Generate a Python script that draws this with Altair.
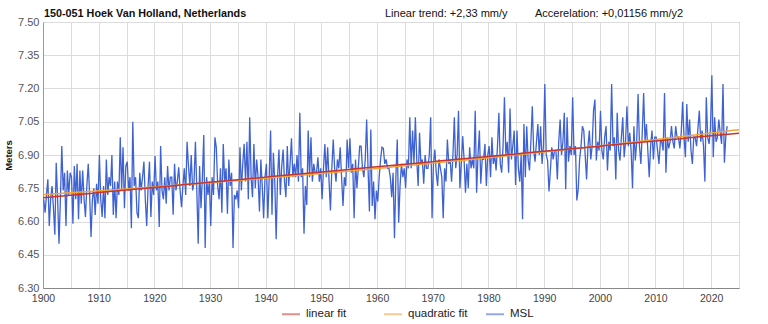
import altair as alt
import pandas as pd

# ---------------- data ----------------
start_year = 1900
# four values per year (quarters), metres
msl_by_year = [
    [6.70, 6.64, 6.72, 6.79],   # 1900
    [6.58, 6.70, 6.76, 6.66],
    [6.54, 6.865, 6.70, 6.50],
    [6.70, 6.94, 6.74, 6.82],
    [6.58, 6.83, 6.72, 6.82],
    [6.80, 6.59, 6.85, 6.70],   # 1905
    [6.86, 6.61, 6.83, 6.68],
    [6.83, 6.70, 6.62, 6.76],
    [6.86, 6.72, 6.53, 6.70],
    [6.75, 6.63, 6.77, 6.68],
    [6.90, 6.70, 6.62, 6.76],   # 1910
    [6.615, 6.88, 6.72, 6.80],
    [6.76, 6.90, 6.63, 6.78],
    [6.615, 6.78, 6.72, 6.98],
    [6.74, 6.935, 6.66, 6.85],
    [6.87, 6.74, 6.80, 6.57],   # 1915
    [7.05, 6.76, 6.80, 6.64],
    [6.615, 6.82, 6.74, 6.80],
    [6.87, 6.70, 6.58, 6.76],
    [6.87, 6.62, 6.78, 6.72],
    [6.895, 6.74, 6.78, 6.575],  # 1920
    [6.94, 6.74, 6.70, 6.80],
    [6.68, 6.85, 6.74, 6.80],
    [6.80, 6.63, 6.86, 6.74],
    [6.78, 6.845, 6.74, 6.665],
    [6.76, 6.84, 6.72, 6.96],   # 1925
    [6.85, 6.76, 6.90, 6.74],
    [6.78, 6.96, 6.74, 6.50],
    [6.85, 6.66, 6.80, 6.99],
    [6.48, 6.80, 6.72, 6.78],
    [6.58, 6.80, 6.72, 6.98],   # 1930
    [6.935, 6.76, 6.70, 6.84],
    [6.64, 6.95, 6.78, 6.84],
    [6.635, 6.88, 6.76, 6.82],
    [6.48, 6.72, 6.70, 6.74],
    [6.66, 6.935, 6.74, 6.86],  # 1935
    [6.95, 6.78, 6.96, 6.70],
    [7.07, 6.80, 6.71, 6.95],
    [6.75, 6.88, 6.80, 6.645],
    [6.88, 6.76, 6.615, 6.80],
    [6.86, 6.615, 6.80, 7.01],  # 1940
    [6.63, 6.91, 6.78, 6.52],
    [6.80, 6.925, 6.72, 6.85],
    [6.925, 6.78, 6.71, 6.94],
    [6.76, 6.86, 6.975, 6.80],
    [6.86, 6.80, 6.90, 6.78],   # 1945
    [7.09, 6.80, 6.84, 6.545],
    [6.76, 6.675, 7.01, 6.80],
    [6.98, 6.78, 6.86, 6.82],
    [6.82, 6.89, 6.78, 6.84],
    [6.70, 6.84, 6.95, 6.80],   # 1950
    [6.935, 6.78, 6.65, 6.84],
    [6.97, 6.84, 6.78, 6.88],
    [6.84, 6.935, 6.80, 6.67],
    [6.80, 6.76, 6.97, 6.84],
    [6.975, 6.82, 6.86, 6.615],  # 1955
    [6.88, 6.75, 6.84, 6.94],
    [6.94, 6.84, 6.80, 6.88],
    [7.06, 6.84, 6.645, 7.015],
    [6.67, 6.78, 6.61, 6.74],
    [6.69, 6.80, 6.88, 6.935],  # 1960
    [6.93, 6.86, 6.88, 6.84],
    [6.84, 6.80, 6.71, 6.82],
    [6.525, 6.80, 6.97, 6.595],
    [6.76, 6.86, 6.80, 6.84],
    [6.75, 6.88, 6.84, 7.07],   # 1965
    [6.84, 7.01, 6.86, 7.07],
    [6.88, 6.76, 7.00, 6.86],
    [6.88, 6.77, 6.90, 6.84],
    [6.84, 6.90, 7.07, 6.615],
    [6.86, 6.925, 6.82, 6.76],  # 1970
    [6.88, 6.84, 6.80, 6.615],
    [6.84, 6.78, 6.97, 6.86],
    [6.88, 6.78, 6.90, 7.07],
    [6.84, 6.90, 7.10, 6.75],
    [6.86, 6.985, 6.88, 6.73],  # 1975
    [6.86, 6.75, 6.935, 6.84],
    [6.88, 6.84, 7.10, 6.73],
    [6.90, 7.01, 6.77, 6.88],
    [6.88, 6.95, 6.76, 6.90],
    [6.94, 6.80, 6.98, 6.86],   # 1980
    [6.90, 6.83, 6.94, 7.09],
    [6.86, 6.82, 6.94, 7.16],
    [6.90, 6.96, 6.82, 7.11],
    [6.88, 6.94, 7.01, 6.765],
    [7.01, 6.84, 6.78, 6.90],   # 1985
    [6.61, 7.04, 6.80, 7.03],
    [6.88, 6.83, 6.96, 7.12],
    [6.92, 6.87, 6.96, 7.04],
    [6.90, 7.03, 6.86, 6.94],
    [7.22, 6.90, 6.875, 6.735],  # 1990
    [6.83, 6.935, 6.88, 6.92],
    [6.92, 6.79, 6.96, 7.06],
    [6.90, 6.96, 7.09, 6.745],
    [7.07, 6.87, 6.94, 6.90],
    [7.16, 6.90, 6.94, 6.695],  # 1995
    [6.745, 6.88, 6.94, 7.03],
    [7.01, 6.90, 6.79, 6.94],
    [7.01, 6.88, 6.94, 7.10],
    [7.15, 6.875, 6.96, 6.92],
    [7.10, 6.92, 6.88, 6.98],   # 2000
    [7.03, 6.83, 6.96, 6.92],
    [7.22, 6.94, 6.98, 6.79],
    [7.09, 6.92, 6.875, 6.98],
    [7.07, 6.89, 6.96, 7.12],
    [6.94, 7.00, 6.92, 6.75],   # 2005
    [7.03, 6.875, 6.96, 7.175],
    [6.94, 6.86, 7.00, 7.18],
    [6.96, 7.04, 6.92, 6.80],
    [6.94, 7.01, 6.88, 6.98],
    [6.98, 6.92, 6.86, 6.96],   # 2010
    [6.96, 6.92, 7.18, 6.82],
    [6.98, 6.93, 6.96, 7.03],
    [6.96, 6.93, 7.03, 6.98],
    [6.98, 6.93, 7.00, 7.14],
    [6.98, 6.89, 7.13, 6.96],   # 2015
    [7.06, 6.92, 6.86, 6.98],
    [6.98, 6.94, 7.02, 7.10],
    [6.96, 7.01, 6.94, 6.78],
    [7.16, 6.98, 6.95, 7.02],
    [7.26, 6.89, 7.07, 6.96],   # 2020
    [6.98, 7.06, 7.00, 6.95],
    [7.22, 6.865, 6.98, 7.03],
]

series_names = ["linear fit", "quadratic fit", "MSL"]
series_colors = ["#c8342c", "#f0a43a", "#3f62d2"]

linear_at_1900 = 6.707        # m, where the red fit line starts
trend_mm_per_year = 2.33      # from header text
accel_mm_per_year2 = 0.01156  # from header text
fit_years = list(range(1900, 2026))

title_text = "150-051 Hoek Van Holland, Netherlands"
trend_text = "Linear trend: +2,33 mm/y"
accel_text = "Accerelation: +0,01156 mm/y2"

y_ticks = [6.30, 6.45, 6.60, 6.75, 6.90, 7.05, 7.20, 7.35, 7.50]
x_ticks = list(range(1900, 2026, 5))

# ---------------- tables ----------------
rows = []
for i, vals in enumerate(msl_by_year):
    for q, v in enumerate(vals):
        rows.append({"t": start_year + i + (q + 0.5) / 4.0, "v": v, "series": "MSL"})
msl_df = pd.DataFrame(rows)

tc = 1961.5
mean_sq = 61.75 ** 2 / 3.0
lin_rows, quad_rows = [], []
for yr in fit_years:
    lin = linear_at_1900 + trend_mm_per_year / 1000.0 * (yr - 1900)
    quad = lin + accel_mm_per_year2 / 2.0 / 1000.0 * ((yr - tc) ** 2 - mean_sq)
    lin_rows.append({"t": yr, "v": lin, "series": "linear fit"})
    quad_rows.append({"t": yr, "v": quad, "series": "quadratic fit"})
lin_df = pd.DataFrame(lin_rows)
quad_df = pd.DataFrame(quad_rows)

FONT = "Liberation Sans, Arial, sans-serif"

color = alt.Color(
    "series:N",
    scale=alt.Scale(domain=series_names, range=series_colors),
    legend=alt.Legend(
        title=None, orient="none", direction="horizontal",
        legendX=238, legendY=282, symbolType="stroke", symbolSize=324,
        symbolStrokeWidth=2, symbolOpacity=0.55, labelFontSize=11.5,
        labelColor="#222", labelFont=FONT, gridAlign="all",
        columnPadding=14, labelOffset=5,
    ),
)

x_enc = alt.X(
    "t:Q",
    scale=alt.Scale(domain=[1900, 2025], nice=False, zero=False),
    axis=alt.Axis(
        values=x_ticks,
        labelExpr="datum.value % 10 == 0 && datum.value < 2025 ? datum.value + '' : ''",
        labelFlush=False, labelOverlap=False, ticks=False,
        labelFontSize=10.5, labelColor="#444", labelPadding=5,
        gridColor="#dcdcdc", domainColor="#888", title=None,
    ),
)
y_enc = alt.Y(
    "v:Q",
    scale=alt.Scale(domain=[6.30, 7.50], nice=False, zero=False),
    axis=alt.Axis(
        values=y_ticks, format=".2f", labelFlush=False, labelOverlap=False,
        ticks=False, labelFontSize=11, labelColor="#555", labelPadding=4,
        gridColor="#dcdcdc", domainColor="#999",
        title="Meters", titleFontSize=9.5, titleFontWeight="bold",
        titleColor="#111", titlePadding=4,
    ),
)

msl = alt.Chart(msl_df).mark_line(strokeWidth=1.3).encode(
    x=x_enc, y=y_enc, color=color
)
quad_line = alt.Chart(quad_df).mark_line(strokeWidth=1.5).encode(
    x=x_enc, y=y_enc, color=color
)
lin_line = alt.Chart(lin_df).mark_line(strokeWidth=1.5).encode(
    x=x_enc, y=y_enc, color=color
)

hdr = pd.DataFrame({"k": [0]})
t1 = alt.Chart(hdr).mark_text(
    text=title_text, align="left", baseline="alphabetic", fontWeight="bold",
    fontSize=10.8, font=FONT, color="#111"
).encode(x=alt.value(1), y=alt.value(-5))
t2 = alt.Chart(hdr).mark_text(
    text=trend_text, align="left", baseline="alphabetic",
    fontSize=11, font=FONT, color="#111"
).encode(x=alt.value(342), y=alt.value(-5))
t3 = alt.Chart(hdr).mark_text(
    text=accel_text, align="left", baseline="alphabetic",
    fontSize=11, font=FONT, color="#111"
).encode(x=alt.value(492), y=alt.value(-5))

chart = alt.layer(msl, quad_line, lin_line, t1, t2, t3).properties(
    width=696, height=266,
    autosize=alt.AutoSizeParams(type="none"),
    padding={"left": 43, "top": 22, "right": 29, "bottom": 36},
).configure(font=FONT).configure_view(stroke="#aaa", strokeWidth=1)

chart.save("out.html", embed_options={"renderer": "svg", "actions": False})
